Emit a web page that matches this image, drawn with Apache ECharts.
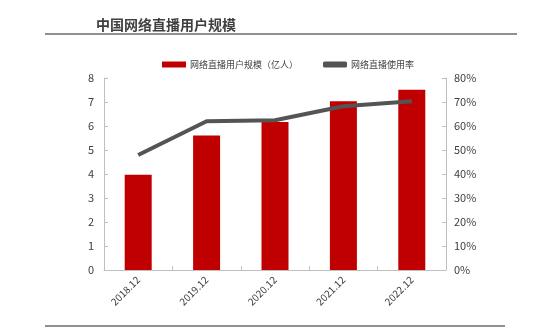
<!DOCTYPE html>
<html>
<head>
<meta charset="utf-8">
<script src="https://cdn.jsdelivr.net/npm/echarts@6/dist/echarts.min.js"></script>
<style>
html,body{margin:0;padding:0;background:#fff;}
#chart{width:550px;height:330px;}
</style>
</head>
<body>
<div id="chart"></div>
<script>
// 中国网络直播用户规模与使用率
var categories = ['2018.12', '2019.12', '2020.12', '2021.12', '2022.12'];
var users = [3.97, 5.60, 6.17, 7.03, 7.51];          // 亿人
var usageRate = [47.9, 62.0, 62.4, 68.2, 70.3];      // %
var leftTicks = [0, 1, 2, 3, 4, 5, 6, 7, 8];
var rightTicks = [0, 10, 20, 30, 40, 50, 60, 70, 80];

var FONT = '"Noto Sans CJK SC", "Noto Sans", sans-serif';
var chart = echarts.init(document.getElementById('chart'), null, {renderer: 'canvas'});

chart.setOption({
  backgroundColor: '#ffffff',
  textStyle: {fontFamily: FONT},
  animation: false,
  graphic: [
    {type: 'text', left: 96, top: 18,
     style: {text: '中国网络直播用户规模', fill: '#404040', font: 'bold 14px ' + FONT}},
    {type: 'line', shape: {x1: 45, y1: 34, x2: 517, y2: 34},
     style: {stroke: '#6b6b6b', lineWidth: 1.5}},
    {type: 'line', shape: {x1: 45, y1: 326, x2: 505, y2: 326},
     style: {stroke: '#6b6b6b', lineWidth: 1.5}}
  ],
  legend: {
    top: 55,
    left: 157,
    itemGap: 25,
    itemWidth: 24,
    itemHeight: 6,
    textStyle: {fontSize: 9, color: '#404040', fontFamily: FONT, padding: [0, 0, 0, -1]},
    data: [
      {name: '网络直播用户规模（亿人）', icon: 'rect'},
      {name: '网络直播使用率', icon: 'roundRect', itemStyle: {color: '#545454'}}
    ]
  },
  grid: {left: 104, right: 104, top: 78, bottom: 60, containLabel: false},
  xAxis: {
    type: 'category',
    data: categories,
    boundaryGap: true,
    axisLine: {lineStyle: {color: '#bfbfbf'}},
    axisTick: {show: true, inside: true, length: 4, lineStyle: {color: '#bfbfbf'}},
    axisLabel: {rotate: 45, fontSize: 10, color: '#404040', margin: 8, fontFamily: FONT}
  },
  yAxis: [
    {
      type: 'value', min: leftTicks[0], max: leftTicks[leftTicks.length - 1], interval: 1,
      axisLine: {show: true, lineStyle: {color: '#bfbfbf'}},
      axisTick: {show: true, inside: true, length: 4, lineStyle: {color: '#bfbfbf'}},
      splitLine: {show: false},
      axisLabel: {fontSize: 11, color: '#404040', margin: 10, fontFamily: FONT}
    },
    {
      type: 'value', min: rightTicks[0], max: rightTicks[rightTicks.length - 1], interval: 10,
      position: 'right',
      axisLine: {show: true, lineStyle: {color: '#bfbfbf'}},
      axisTick: {show: true, inside: true, length: 4, lineStyle: {color: '#bfbfbf'}},
      splitLine: {show: false},
      axisLabel: {fontSize: 11, color: '#404040', margin: 8, formatter: '{value}%', fontFamily: FONT}
    }
  ],
  series: [
    {
      name: '网络直播用户规模（亿人）',
      type: 'bar',
      data: users,
      barWidth: 27,
      itemStyle: {color: '#c00000'}
    },
    {
      name: '网络直播使用率',
      type: 'line',
      yAxisIndex: 1,
      data: usageRate,
      symbol: 'none',
      lineStyle: {color: '#545454', width: 4},
      itemStyle: {color: '#545454'}
    }
  ]
});
</script>
</body>
</html>
